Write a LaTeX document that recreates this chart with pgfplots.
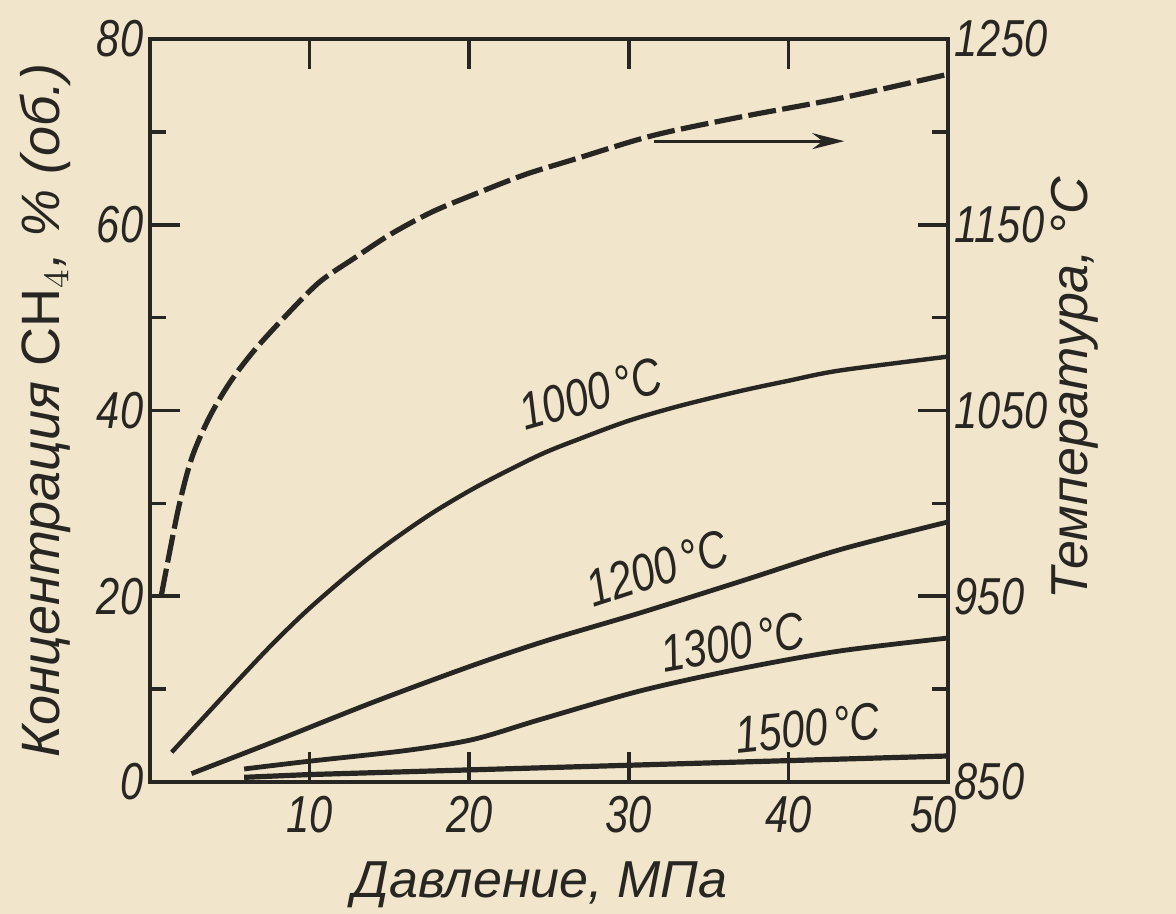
\documentclass[border=0pt]{standalone}
\usepackage{fontspec}
\setmainfont{Liberation Sans}
\newfontfamily\numfont{Liberation Sans}[FakeStretch=0.8]
\usepackage{pgfplots}
\pgfplotsset{compat=1.18}
\usetikzlibrary{arrows.meta,backgrounds}
\definecolor{ink}{RGB}{40,38,34}
\definecolor{paper}{RGB}{241,230,203}

\pgfplotsset{
  common/.style={
    scale only axis, width=199.5pt, height=185.75pt,
    xmin=0, xmax=50,
    tick align=inside,
    major tick length=7.5pt, minor tick length=4pt,
    every tick/.style={ink, line width=0.9pt},
    every minor tick/.style={ink, line width=0.9pt},
    axis line style={ink, line width=1.1pt},
    /pgf/number format/assume math mode=true,
    /pgf/number format/1000 sep={},
    ticklabel style={font=\fontsize{13}{15}\selectfont\numfont\itshape, text=ink},
    label style={font=\fontsize{13}{15}\selectfont\itshape, text=ink},
    clip=false,
  },
}
\tikzset{clab/.style={ink, inner sep=0pt, font=\fontsize{13}{15}\selectfont\numfont\itshape}}

\begin{document}
\begin{tikzpicture}
\begin{axis}[common,
  ymin=0, ymax=80,
  xtick={10,20,30,40,50}, xticklabels={10,20,30,40,\kern-7pt 50},
  ytick={0,20,40,60,80}, minor ytick={10,30,50,70},
  xtick pos=both, ytick pos=left,
  xticklabel pos=bottom,
  yticklabel style={inner sep=1.5pt},
  xlabel={Давление, МПа},
  xlabel style={at={(axis description cs:0.489,0)}, anchor=center, yshift=-25.75pt},
  ylabel={Концентрация $\mathrm{CH}_4$, \% (об.)},
  ylabel style={at={(axis description cs:-0.131,0.5)}, anchor=center, font=\fontsize{13.5}{15}\selectfont\itshape},
]
\coordinate (SW) at (rel axis cs:0,0);
\coordinate (NE) at (rel axis cs:1,1);
% 1000 C
\addplot[ink, line width=1.1pt, smooth, tension=0.5] coordinates {
 (1.36,3.2)(3.5,7.2)(5.6,11.1)(7.7,14.9)(9.8,18.4)(12,21.7)(14,24.5)(16,27.0)(18,29.3)
 (20.7,32.0)(24.4,35.2)(27,37.0)(30,38.9)(33.2,40.5)(37,42.1)(40,43.2)(43.2,44.3)(50,45.8)};
% 1200 C
\addplot[ink, line width=1.2pt, smooth, tension=0.5] coordinates {
 (2.6,0.9)(7.7,4.3)(14,8.6)(20.3,12.6)(25,15.3)(30.7,18.2)(37,21.6)(43.2,25.0)(50,28.0)};
% 1300 C
\addplot[ink, line width=1.2pt, smooth, tension=0.5] coordinates {
 (5.9,1.4)(9.8,2.2)(16.1,3.4)(20.3,4.6)(24.4,6.7)(30.7,9.8)(37,12.2)(43.2,14.1)(50,15.5)};
% 1500 C
\addplot[ink, line width=1.3pt] coordinates {
 (5.9,0.5)(10,0.8)(20,1.3)(30,1.8)(40,2.3)(50,2.8)};
\draw[ink, line width=0.7pt, -{Stealth[length=8pt,width=4pt]}] (axis cs:31.6,69) -- (axis cs:43.5,69);
\node[clab, rotate=16] at (axis cs:27.6,41.8) {1000\kern1.5pt°C};
\node[clab, rotate=18] at (axis cs:31.8,23.0) {1200\kern1.5pt°C};
\node[clab, rotate=10] at (axis cs:36.5,15.0) {1300\kern1.5pt°C};
\node[clab, rotate=6] at (axis cs:41.2,5.8) {1500\kern1.5pt°C};
\end{axis}
\begin{axis}[common,
  ymin=850, ymax=1250,
  axis x line=none, axis y line*=right,
  ytick={850,950,1050,1150,1250}, minor ytick={900,1000,1100,1200},
  yticklabel style={inner sep=1.5pt},
  ylabel={Температура, °C},
  ylabel style={at={(axis description cs:1.159,0.53)}, anchor=center},
]
\addplot[ink, line width=1.3pt, dash pattern=on 7pt off 1.6pt, smooth, tension=0.5] coordinates {
 (0.7,950)(1.75,996)(2.6,1024)(3.7,1046)(5.0,1065)(6.5,1082)(8.4,1100)(10.6,1119)(12.8,1132)
 (15.1,1145)(17.7,1157)(20.5,1167)(23.5,1177)(26.5,1185)(31.5,1198)(37,1208)(43.2,1218)(50,1231)};
\end{axis}
\begin{pgfonlayer}{background}
\fill[paper] ([shift={(-37.5pt,-33pt)}]SW) rectangle ([shift={(57pt,9.75pt)}]NE);
\end{pgfonlayer}
\pgfresetboundingbox
\path[use as bounding box] ([shift={(-37.5pt,-33pt)}]SW) rectangle ([shift={(57pt,9.75pt)}]NE);
\end{tikzpicture}
\end{document}
